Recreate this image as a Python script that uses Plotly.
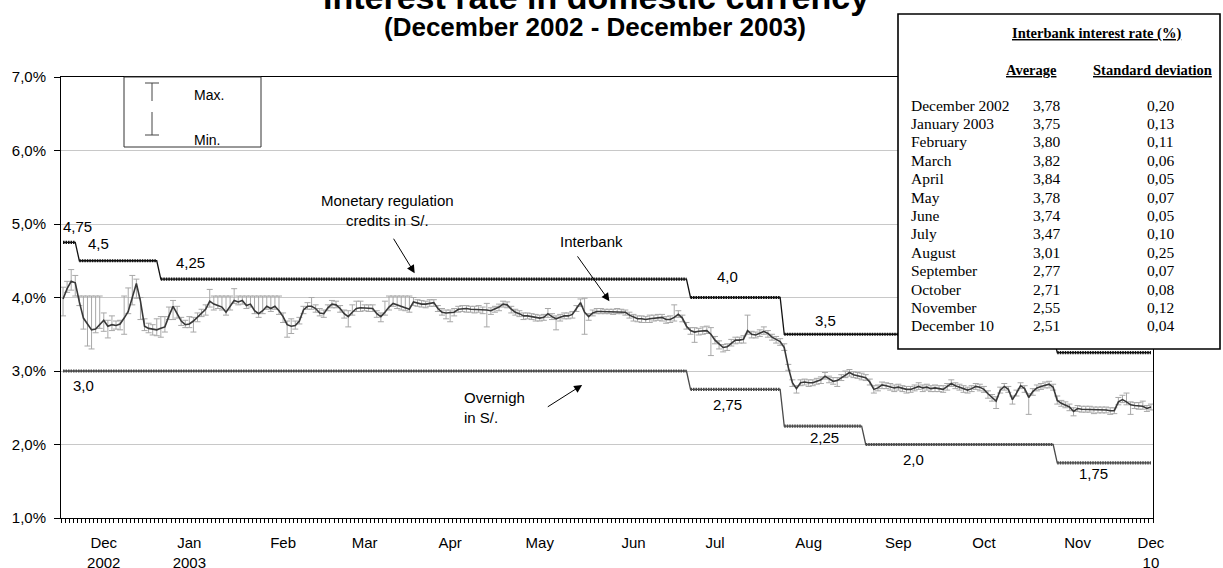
import plotly.graph_objects as go
import pandas as pd

# ---------------- data ----------------
dates = pd.bdate_range("2002-12-02", "2003-12-10")  # business days on the axis

interbank = [
    3.98, 4.12, 4.22, 4.20, 3.94, 3.72, 3.64, 3.56, 3.57, 3.63,
    3.69, 3.61, 3.63, 3.62, 3.64, 3.72, 3.81, 4.00, 4.19, 3.95,
    3.61, 3.58, 3.57, 3.56, 3.58, 3.60, 3.75, 3.88, 3.78, 3.68,
    3.63, 3.64, 3.68, 3.73, 3.79, 3.84, 3.95, 3.91, 3.89, 3.87,
    3.80, 3.88, 3.96, 3.94, 3.96, 3.89, 3.91, 3.82, 3.78, 3.82,
    3.88, 3.85, 3.88, 3.82, 3.74, 3.63, 3.61, 3.62, 3.68, 3.83,
    3.88, 3.88, 3.85, 3.79, 3.78, 3.86, 3.91, 3.90, 3.85, 3.78,
    3.74, 3.80, 3.85, 3.86, 3.86, 3.86, 3.85, 3.78, 3.74, 3.80,
    3.87, 3.92, 3.90, 3.87, 3.86, 3.84, 3.94, 3.92, 3.91, 3.91,
    3.92, 3.93, 3.85, 3.80, 3.79, 3.79, 3.80, 3.84, 3.85, 3.85,
    3.84, 3.84, 3.84, 3.83, 3.83, 3.82, 3.84, 3.87, 3.91, 3.90,
    3.84, 3.80, 3.78, 3.75, 3.75, 3.74, 3.73, 3.72, 3.73, 3.78,
    3.74, 3.71, 3.73, 3.75, 3.75, 3.77, 3.85, 3.93, 3.80, 3.74,
    3.79, 3.81, 3.81, 3.81, 3.81, 3.81, 3.81, 3.81, 3.80, 3.76,
    3.73, 3.71, 3.71, 3.70, 3.71, 3.72, 3.73, 3.73, 3.70, 3.70,
    3.73, 3.77, 3.72, 3.61, 3.55, 3.53, 3.54, 3.55, 3.55, 3.50,
    3.42, 3.37, 3.32, 3.33, 3.38, 3.42, 3.42, 3.43, 3.55, 3.50,
    3.49, 3.52, 3.54, 3.51, 3.46, 3.43, 3.40, 3.32, 3.05, 2.84,
    2.76, 2.84, 2.85, 2.84, 2.84, 2.86, 2.88, 2.93, 2.89, 2.86,
    2.87, 2.91, 2.95, 2.98, 2.95, 2.94, 2.93, 2.91, 2.85, 2.75,
    2.77, 2.81, 2.80, 2.78, 2.77, 2.78, 2.76, 2.75, 2.75, 2.77,
    2.79, 2.77, 2.78, 2.76, 2.77, 2.76, 2.75, 2.79, 2.83, 2.80,
    2.78, 2.76, 2.74, 2.76, 2.79, 2.78, 2.75, 2.69, 2.64, 2.59,
    2.74, 2.79, 2.75, 2.61, 2.70, 2.80, 2.76, 2.64, 2.72, 2.77,
    2.79, 2.81, 2.82, 2.78, 2.60, 2.56, 2.54, 2.51, 2.45, 2.49,
    2.48, 2.48, 2.48, 2.47, 2.47, 2.47, 2.47, 2.46, 2.46, 2.58,
    2.61, 2.58, 2.54, 2.53, 2.53, 2.52, 2.49, 2.51,
]

# distance from the daily rate to the daily maximum / minimum
err_max = [
    .16, .10, .16, .10, .08, .30, .38, .46, .45, .39,
    .10, .08, .12, .06, .05, .30, .32, .30, .06, .05,
    .10, .07, .06, .15, .16, .14, .12, .08, .10, .05,
    .06, .10, .05, .06, .05, .06, .16, .11, .13, .15,
    .22, .14, .16, .08, .06, .13, .11, .20, .24, .20,
    .14, .17, .14, .20, .05, .05, .10, .06, .05, .05,
    .05, .12, .05, .06, .05, .04, .05, .05, .04, .05,
    .08, .10, .10, .09, .04, .04, .05, .04, .05, .15,
    .15, .10, .12, .15, .16, .18, .06, .05, .05, .04,
    .05, .04, .04, .05, .04, .04, .05, .04, .04, .04,
    .04, .04, .05, .04, .09, .04, .04, .04, .04, .04,
    .04, .04, .04, .04, .04, .04, .04, .04, .04, .07,
    .04, .04, .04, .04, .04, .04, .04, .05, .19, .04,
    .04, .04, .04, .03, .03, .03, .04, .03, .03, .04,
    .04, .04, .04, .04, .05, .04, .04, .04, .04, .05,
    .17, .05, .04, .05, .04, .06, .04, .05, .06, .09,
    .05, .04, .04, .04, .05, .04, .04, .05, .21, .04,
    .04, .04, .06, .04, .04, .04, .04, .05, .04, .04,
    .04, .04, .04, .04, .04, .04, .04, .05, .04, .05,
    .04, .04, .05, .04, .04, .04, .04, .04, .04, .05,
    .04, .04, .04, .05, .04, .04, .04, .04, .04, .04,
    .05, .04, .04, .04, .04, .04, .05, .04, .05, .04,
    .04, .04, .04, .04, .04, .04, .04, .04, .04, .06,
    .04, .04, .04, .05, .04, .04, .04, .05, .04, .04,
    .04, .04, .04, .04, .06, .04, .04, .04, .05, .04,
    .04, .04, .04, .04, .04, .04, .04, .04, .04, .06,
    .06, .12, .04, .04, .04, .07, .04, .04,
]
err_min = [
    .23, .05, .12, .18, .05, .15, .30, .26, .05, .05,
    .15, .16, .08, .05, .08, .22, .03, .10, .20, .25,
    .06, .06, .08, .08, .12, .07, .05, .18, .06, .06,
    .04, .05, .15, .06, .05, .08, .08, .08, .04, .04,
    .04, .05, .04, .04, .05, .04, .04, .04, .05, .04,
    .04, .04, .04, .05, .08, .17, .10, .05, .04, .05,
    .04, .04, .05, .04, .05, .04, .05, .04, .05, .06,
    .14, .04, .04, .05, .04, .05, .04, .05, .07, .04,
    .04, .04, .05, .04, .04, .04, .05, .04, .04, .05,
    .04, .05, .04, .04, .08, .12, .05, .04, .04, .05,
    .04, .05, .04, .05, .23, .05, .04, .05, .04, .04,
    .05, .04, .04, .05, .04, .04, .05, .04, .04, .05,
    .04, .15, .05, .04, .04, .05, .04, .05, .30, .05,
    .04, .03, .03, .03, .03, .04, .03, .03, .04, .04,
    .05, .04, .05, .04, .05, .04, .04, .05, .05, .04,
    .05, .04, .05, .04, .05, .14, .05, .05, .04, .29,
    .05, .07, .06, .05, .04, .05, .04, .05, .05, .05,
    .04, .05, .04, .05, .04, .05, .05, .04, .04, .05,
    .06, .04, .04, .05, .04, .04, .05, .04, .05, .04,
    .08, .04, .04, .05, .04, .04, .05, .04, .04, .05,
    .04, .05, .04, .04, .05, .04, .04, .05, .04, .04,
    .04, .05, .04, .04, .05, .04, .04, .05, .04, .04,
    .04, .05, .04, .04, .04, .05, .04, .06, .05, .10,
    .04, .05, .04, .06, .04, .04, .05, .23, .05, .04,
    .04, .04, .05, .04, .05, .04, .04, .05, .06, .04,
    .04, .04, .04, .05, .04, .04, .04, .05, .04, .04,
    .04, .04, .13, .04, .05, .04, .04, .04,
]

credit_levels = [4.75, 4.5, 4.25, 4.0, 3.5, 3.25]
credit_start = ["2002-12-02", "2002-12-06", "2003-01-03", "2003-07-04", "2003-08-06", "2003-11-07"]
overnight_levels = [3.0, 2.75, 2.25, 2.0, 1.75]
overnight_start = ["2002-12-02", "2003-07-04", "2003-08-06", "2003-09-03", "2003-11-07"]

# label position of each rate level (day index, rate)
credit_label_pos = [(3.6, 4.96), (8.8, 4.74), (31.2, 4.48), (163, 4.28), (187.2, 3.69), None]
overnight_label_pos = [(5.0, 2.80), (163, 2.54), (186.9, 2.09), (208.6, 1.79), (253, 1.60)]

y_ticks = [1, 2, 3, 4, 5, 6, 7]
month_labels = ["Dec<br>2002", "Jan<br>2003", "Feb", "Mar", "Apr", "May", "Jun",
                "Jul", "Aug", "Sep", "Oct", "Nov", "Dec<br>10"]

table_months = ["December 2002", "January 2003", "February", "March", "April", "May",
                "June", "July", "August", "September", "October", "November", "December 10"]
table_avg = [3.78, 3.75, 3.80, 3.82, 3.84, 3.78, 3.74, 3.47, 3.01, 2.77, 2.71, 2.55, 2.51]
table_std = [0.20, 0.13, 0.11, 0.06, 0.05, 0.07, 0.05, 0.10, 0.25, 0.07, 0.08, 0.12, 0.04]

# ---------------- helpers ----------------
N = len(dates)
days = list(range(N))


def step_series(levels, starts):
    st = [dates.get_loc(pd.Timestamp(s)) for s in starts]
    out = []
    for d in days:
        k = max(j for j in range(len(st)) if st[j] <= d)
        out.append(levels[k])
    return out


def broken(series):
    xs, ys = [], []
    for d in days:
        if d > 0 and series[d] != series[d - 1]:
            xs.append(None)
            ys.append(None)
        xs.append(d)
        ys.append(series[d])
    return xs, ys


def fmt(v):
    s = f"{v:.2f}".rstrip("0")
    if s.endswith("."):
        s += "0"
    return s.replace(".", ",")


def dec2(v):
    return f"{v:.2f}".replace(".", ",")


L, R, T, B = 61, 1153, 77, 518
W, H = 1223, 568


def px(x):
    return (x - L) / (R - L)


def py(y):
    return (B - y) / (B - T)


credit = step_series(credit_levels, credit_start)
overnight = step_series(overnight_levels, overnight_start)

FONT = "Liberation Sans, Arial, sans-serif"
SERIF = "Liberation Serif, Times New Roman, serif"

fig = go.Figure()

for series, col in [(credit, "#111111"), (overnight, "#4a4a4a")]:
    fig.add_trace(go.Scatter(x=days, y=series, mode="lines",
                             line=dict(color=col, width=1.3), hoverinfo="skip"))
    bx, by = broken(series)
    fig.add_trace(go.Scatter(x=bx, y=by, mode="lines", connectgaps=False,
                             line=dict(color=col, width=3.2, dash="1.5px,1px"),
                             hoverinfo="skip"))

fig.add_trace(go.Scatter(
    x=days, y=interbank, mode="lines",
    line=dict(color="#383838", width=1.6),
    error_y=dict(type="data", symmetric=False, array=err_max, arrayminus=err_min,
                 color="#a8a8a8", thickness=1, width=3),
))

# month tick positions
tick_idx = []
for (yr, mo) in [(2002, 12)] + [(2003, m) for m in range(1, 12)]:
    sel = [i for i, d in enumerate(dates) if d.year == yr and d.month == mo and d.day >= 14]
    tick_idx.append(sel[0])
tick_idx.append(N - 1)

annotations = []
for lv, pos in zip(credit_levels, credit_label_pos):
    if pos:
        annotations.append(dict(x=pos[0], y=pos[1], xref="x", yref="y", text=fmt(lv),
                                showarrow=False, font=dict(size=15)))
for lv, pos in zip(overnight_levels, overnight_label_pos):
    annotations.append(dict(x=pos[0], y=pos[1], xref="x", yref="y", text=fmt(lv),
                            showarrow=False, font=dict(size=15)))

annotations += [
    dict(x=79.7, y=5.19, xref="x", yref="y", text="Monetary regulation<br>credits in S/.",
         showarrow=False, font=dict(size=15), align="center"),
    dict(x=129.8, y=4.76, xref="x", yref="y", text="Interbank", showarrow=False,
         font=dict(size=15)),
    dict(x=97.8, y=2.50, xref="x", yref="y", text="Overnigh<br>in S/.", showarrow=False,
         font=dict(size=15), align="left", xanchor="left"),
    # arrows
    dict(x=86.3, y=4.33, ax=80.9, ay=4.82, xref="x", yref="y", axref="x", ayref="y",
         text="", showarrow=True, arrowhead=2, arrowsize=1.6, arrowwidth=1, arrowcolor="black"),
    dict(x=134.1, y=3.95, ax=126.0, ay=4.58, xref="x", yref="y", axref="x", ayref="y",
         text="", showarrow=True, arrowhead=2, arrowsize=1.6, arrowwidth=1, arrowcolor="black"),
    dict(x=127.4, y=2.81, ax=118.6, ay=2.50, xref="x", yref="y", axref="x", ayref="y",
         text="", showarrow=True, arrowhead=2, arrowsize=1.6, arrowwidth=1, arrowcolor="black"),
    # titles
    dict(x=px(596), y=py(-3), xref="paper", yref="paper", text="<b>Interest rate in domestic currency</b>",
         showarrow=False, font=dict(size=34), xanchor="center", yanchor="middle"),
    dict(x=px(595), y=py(27), xref="paper", yref="paper", text="<b>(December 2002 - December 2003)</b>",
         showarrow=False, font=dict(size=26), xanchor="center", yanchor="middle"),
    # legend box texts
    dict(x=px(192), y=py(95), xref="paper", yref="paper", text="Max.", showarrow=False,
         font=dict(size=14), xanchor="left", yanchor="middle"),
    dict(x=px(192), y=py(140), xref="paper", yref="paper", text="Min.", showarrow=False,
         font=dict(size=14), xanchor="left", yanchor="middle"),
    # table
    dict(x=px(1096), y=py(33), xref="paper", yref="paper",
         text="<b><u>Interbank interest rate (%)</u></b>", showarrow=False,
         font=dict(size=14.5, family=SERIF), xanchor="center", yanchor="middle"),
    dict(x=px(1031), y=py(70), xref="paper", yref="paper", text="<b><u>Average</u></b>",
         showarrow=False, font=dict(size=14.5, family=SERIF), xanchor="center", yanchor="middle"),
    dict(x=px(1152), y=py(70), xref="paper", yref="paper", text="<b><u>Standard deviation</u></b>",
         showarrow=False, font=dict(size=14.5, family=SERIF), xanchor="center", yanchor="middle"),
]
for k, (m, a, s) in enumerate(zip(table_months, table_avg, table_std)):
    yy = py(105 + 18.4 * k)
    annotations.append(dict(x=px(909), y=yy, xref="paper", yref="paper", text=m, showarrow=False,
                            font=dict(size=15.5, family=SERIF), xanchor="left", yanchor="middle"))
    annotations.append(dict(x=px(1046), y=yy, xref="paper", yref="paper", text=dec2(a),
                            showarrow=False, font=dict(size=15.5, family=SERIF),
                            xanchor="center", yanchor="middle"))
    annotations.append(dict(x=px(1160), y=yy, xref="paper", yref="paper", text=dec2(s),
                            showarrow=False, font=dict(size=15.5, family=SERIF),
                            xanchor="center", yanchor="middle"))

shapes = [
    # legend box
    dict(type="rect", xref="paper", yref="paper", x0=px(124), x1=px(261), y0=py(147), y1=py(77),
         line=dict(color="#333", width=1), fillcolor="white", layer="above"),
    dict(type="line", xref="paper", yref="paper", x0=px(152), x1=px(152), y0=py(83), y1=py(101),
         line=dict(color="#444", width=1), layer="above"),
    dict(type="line", xref="paper", yref="paper", x0=px(145), x1=px(159), y0=py(83), y1=py(83),
         line=dict(color="#444", width=1), layer="above"),
    dict(type="line", xref="paper", yref="paper", x0=px(152), x1=px(152), y0=py(112), y1=py(135),
         line=dict(color="#444", width=1), layer="above"),
    dict(type="line", xref="paper", yref="paper", x0=px(145), x1=px(159), y0=py(135), y1=py(135),
         line=dict(color="#444", width=1), layer="above"),
    # table box
    dict(type="rect", xref="paper", yref="paper", x0=px(898), x1=px(1220), y0=py(349), y1=py(14),
         line=dict(color="black", width=1.6), fillcolor="white", layer="above"),
]

fig.update_layout(
    width=W, height=H,
    margin=dict(l=L, r=W - R, t=T, b=H - B, pad=0, autoexpand=False),
    paper_bgcolor="white", plot_bgcolor="white",
    showlegend=False,
    separators=",.",
    font=dict(family=FONT, size=15, color="black"),
    annotations=annotations,
    shapes=shapes,
    xaxis=dict(range=[-0.5, N - 0.5], tickvals=tick_idx, ticktext=month_labels,
               ticks="", showgrid=False, zeroline=False, automargin=False,
               showline=True, linecolor="black", linewidth=1, mirror=True,
               tickfont=dict(size=15), ticklabelstandoff=11,
               minor=dict(tick0=-0.5, dtick=1, ticks="outside", ticklen=4,
                          tickcolor="black", tickwidth=1, showgrid=False)),
    yaxis=dict(range=[1.0, 7.0], tickvals=y_ticks,
               ticktext=[f"{v:.1f}".replace(".", ",") + "%" for v in y_ticks],
               ticks="outside", ticklen=6, tickcolor="black", automargin=False,
               ticklabelstandoff=5,
               showgrid=True, gridcolor="#c8c8c8", gridwidth=1, zeroline=False,
               showline=True, linecolor="black", linewidth=1, mirror=True,
               tickfont=dict(size=15)),
)

fig.write_html("out.html", config={"displayModeBar": False, "staticPlot": True})

# remove the browser's default page margin so the figure sits at the window's corner
with open("out.html", encoding="utf-8") as fh:
    page = fh.read()
page = page.replace("<head>", "<head><style>html,body{margin:0;padding:0;overflow:hidden}</style>", 1)
with open("out.html", "w", encoding="utf-8") as fh:
    fh.write(page)
